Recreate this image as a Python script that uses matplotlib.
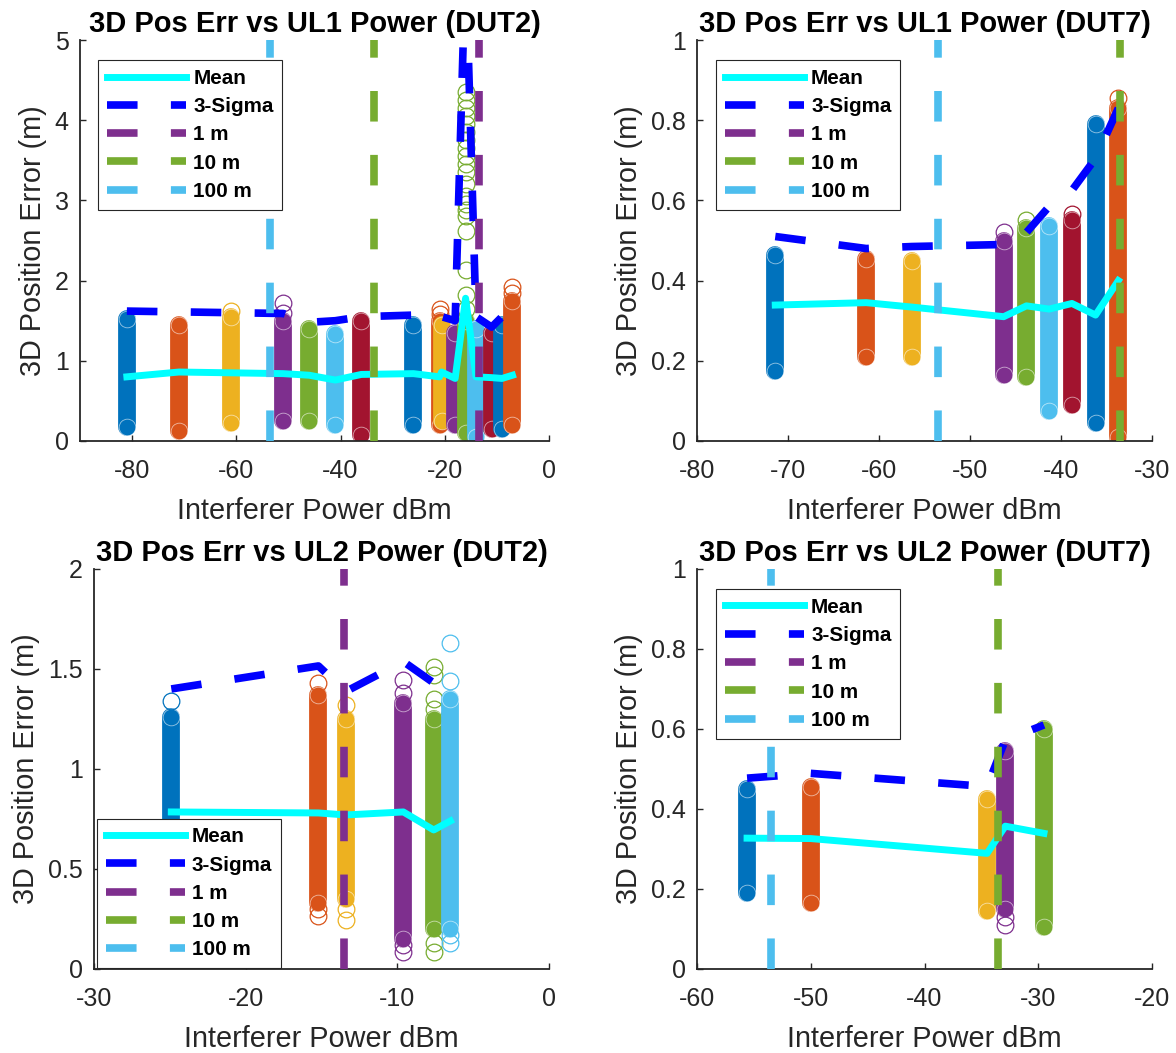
import matplotlib
matplotlib.use('Agg')
import matplotlib.pyplot as plt
from matplotlib.ticker import FuncFormatter

plt.rcParams['font.family'] = ['Liberation Sans', 'DejaVu Sans']
plt.rcParams['lines.scale_dashes'] = False

# MATLAB default colour order
col_order = ['#0072BD', '#D95319', '#EDB120', '#7E2F8E', '#77AC30', '#4DBEEE', '#A2142F']

# threshold power levels (dBm) for 1 m / 10 m / 100 m
thr_power = [-13.5, -33.5, -53.5]
thr_names = ['1 m', '10 m', '100 m']
thr_colors = ['#7E2F8E', '#77AC30', '#4DBEEE']

# ---- UL1 / DUT2 ----
ul1_dut2_x = [-81, -71, -61, -51, -46, -41, -36, -26, -21, -20.6, -18, -16, -14, -11, -9, -7]
ul1_dut2_lo = [0.17, 0.13, 0.22, 0.25, 0.25, 0.20, 0.07, 0.20, 0.20, 0.25, 0.20, 0.10, 0.05, 0.15, 0.15, 0.20]
ul1_dut2_hi = [1.52, 1.45, 1.55, 1.50, 1.40, 1.33, 1.50, 1.45, 1.50, 1.45, 1.35, 1.50, 1.40, 1.35, 1.45, 1.75]
ul1_dut2_rings = [[], [], [1.62], [1.60, 1.72], [], [], [], [], [1.58, 1.65], [], [],
                  [1.65, 1.82, 2.13, 2.62, 2.80, 2.88, 2.95, 3.05, 3.20, 3.35, 3.45, 3.55, 3.65,
                   3.75, 3.85, 3.95, 4.05, 4.15, 4.25, 4.35],
                  [], [], [], [1.85, 1.92]]
ul1_dut2_mean = [0.80, 0.86, 0.85, 0.84, 0.82, 0.76, 0.83, 0.84, 0.80, 0.86, 0.78, 1.78, 0.80, 0.79, 0.78, 0.82]
ul1_dut2_sigma = [1.62, 1.61, 1.60, 1.59, 1.48, 1.50, 1.55, 1.57, 1.52, 1.55, 1.50, 6.0, 1.55, 1.42, 1.55, 1.85]

# ---- UL1 / DUT7 ----
ul1_dut7_x = [-71.4, -61.4, -56.4, -46.3, -43.8, -41.3, -38.8, -36.2, -33.7]
ul1_dut7_lo = [0.175, 0.21, 0.21, 0.165, 0.16, 0.075, 0.09, 0.045, 0.01]
ul1_dut7_hi = [0.465, 0.455, 0.45, 0.50, 0.53, 0.535, 0.55, 0.79, 0.83]
ul1_dut7_rings = [[], [], [], [0.52], [0.55], [], [0.565], [], [0.855]]
ul1_dut7_mean = [0.339, 0.345, 0.334, 0.310, 0.337, 0.329, 0.343, 0.314, 0.400]
ul1_dut7_sigma = [0.510, 0.480, 0.485, 0.490, 0.520, 0.585, 0.625, 0.705, 0.830]

# ---- UL2 / DUT2 ----
ul2_dut2_x = [-24.9, -15.2, -13.4, -9.6, -7.6, -6.5]
ul2_dut2_lo = [0.30, 0.33, 0.35, 0.15, 0.20, 0.20]
ul2_dut2_hi = [1.26, 1.37, 1.25, 1.33, 1.25, 1.35]
ul2_dut2_rings = [[1.34], [1.43, 0.30, 0.265], [1.32, 0.30, 0.245], [1.38, 1.445, 0.12, 0.087],
                  [1.30, 1.35, 1.47, 1.51, 0.13, 0.085], [1.44, 1.63, 0.17, 0.13]]
ul2_dut2_mean = [0.785, 0.780, 0.770, 0.785, 0.695, 0.740]
ul2_dut2_sigma = [1.400, 1.515, 1.387, 1.537, 1.430, 1.530]

# ---- UL2 / DUT7 ----
ul2_dut7_x = [-55.6, -50.0, -34.5, -32.9, -29.5]
ul2_dut7_lo = [0.19, 0.165, 0.145, 0.15, 0.105]
ul2_dut7_hi = [0.45, 0.455, 0.425, 0.545, 0.60]
ul2_dut7_rings = [[], [], [], [0.13, 0.11], []]
ul2_dut7_mean = [0.327, 0.326, 0.289, 0.357, 0.339]
ul2_dut7_sigma = [0.477, 0.489, 0.456, 0.572, 0.610]

txt_col = '#262626'
dash = (22, 24)


def fmt(v, pos):
    return '%g' % v


def draw_panel(ax, title, x, lo, hi, rings, mean, sigma, xlim, ylim, xticks, yticks, leg_loc, leg_anchor):
    for i in range(len(x)):
        c = col_order[i % len(col_order)]
        # dense stack of circles -> solid capsule, plus the loose rings
        ax.plot([x[i], x[i]], [lo[i], hi[i]], color=c, lw=12.8, solid_capstyle='round', zorder=2)
        ax.plot([x[i], x[i]], [lo[i], hi[i]], 'o', ms=12, mfc='none', mec='white', mew=0.6, alpha=0.6, zorder=2)
        if rings[i]:
            ax.plot([x[i]] * len(rings[i]), rings[i], 'o', ms=12, mfc='none', mec=c, mew=0.9, zorder=2)
    ax.plot(x, mean, color='cyan', lw=5, label='Mean', zorder=3)
    ax.plot(x, sigma, color='blue', lw=5.5, dashes=dash, label='3-Sigma', zorder=4)
    for p, nm, c in zip(thr_power, thr_names, thr_colors):
        ax.axvline(p, color=c, lw=5.5, dashes=dash, label=nm, zorder=5)

    ax.set_xlim(xlim)
    ax.set_ylim(ylim)
    ax.set_xticks(xticks)
    ax.set_yticks(yticks)
    ax.xaxis.set_major_formatter(FuncFormatter(fmt))
    ax.yaxis.set_major_formatter(FuncFormatter(fmt))
    for s in ['top', 'right']:
        ax.spines[s].set_visible(False)
    for s in ['left', 'bottom']:
        ax.spines[s].set_color(txt_col)
        ax.spines[s].set_linewidth(1.3)
    ax.tick_params(direction='in', length=4, width=1, colors=txt_col, labelsize=18)
    ax.tick_params(axis='x', pad=13)
    ax.tick_params(axis='y', pad=8)
    ax.set_xlabel('Interferer Power dBm', fontsize=20.8, color=txt_col, labelpad=10)
    ax.set_ylabel('3D Position Error (m)', fontsize=20.8, color=txt_col, labelpad=6)
    ax.set_title(title, fontsize=21, fontweight='bold', pad=6)

    leg = ax.legend(loc=leg_loc, bbox_to_anchor=leg_anchor, borderaxespad=0,
                    prop={'weight': 'bold', 'size': 14.9}, handlelength=3.83,
                    handletextpad=0.34, labelspacing=0.45, borderpad=0.42,
                    fancybox=False, framealpha=1, edgecolor=txt_col)
    leg.get_frame().set_linewidth(0.8)
    leg.set_zorder(10)


fig = plt.figure(figsize=(11.76, 10.53), dpi=100)

ax1 = fig.add_axes([0.0680, 0.5812, 0.3988, 0.3808])
draw_panel(ax1, '3D Pos Err vs UL1 Power (DUT2)', ul1_dut2_x, ul1_dut2_lo, ul1_dut2_hi, ul1_dut2_rings,
           ul1_dut2_mean, ul1_dut2_sigma, (-90, 0), (0, 5), range(-80, 1, 20), range(0, 6),
           'upper left', (0.039, 0.95))

ax2 = fig.add_axes([0.5927, 0.5812, 0.3869, 0.3808])
draw_panel(ax2, '3D Pos Err vs UL1 Power (DUT7)', ul1_dut7_x, ul1_dut7_lo, ul1_dut7_hi, ul1_dut7_rings,
           ul1_dut7_mean, ul1_dut7_sigma, (-80, -30), (0, 1), range(-80, -29, 10),
           [0, 0.2, 0.4, 0.6, 0.8, 1], 'upper left', (0.042, 0.95))

ax3 = fig.add_axes([0.0799, 0.0798, 0.3869, 0.3799])
draw_panel(ax3, '3D Pos Err vs UL2 Power (DUT2)', ul2_dut2_x, ul2_dut2_lo, ul2_dut2_hi, ul2_dut2_rings,
           ul2_dut2_mean, ul2_dut2_sigma, (-30, 0), (0, 2), range(-30, 1, 10),
           [0, 0.5, 1, 1.5, 2], 'lower left', (0.0066, 0.002))

ax4 = fig.add_axes([0.5927, 0.0798, 0.3869, 0.3799])
draw_panel(ax4, '3D Pos Err vs UL2 Power (DUT7)', ul2_dut7_x, ul2_dut7_lo, ul2_dut7_hi, ul2_dut7_rings,
           ul2_dut7_mean, ul2_dut7_sigma, (-60, -20), (0, 1), range(-60, -19, 10),
           [0, 0.2, 0.4, 0.6, 0.8, 1], 'upper left', (0.042, 0.95))

fig.savefig('out.png', dpi=100)
